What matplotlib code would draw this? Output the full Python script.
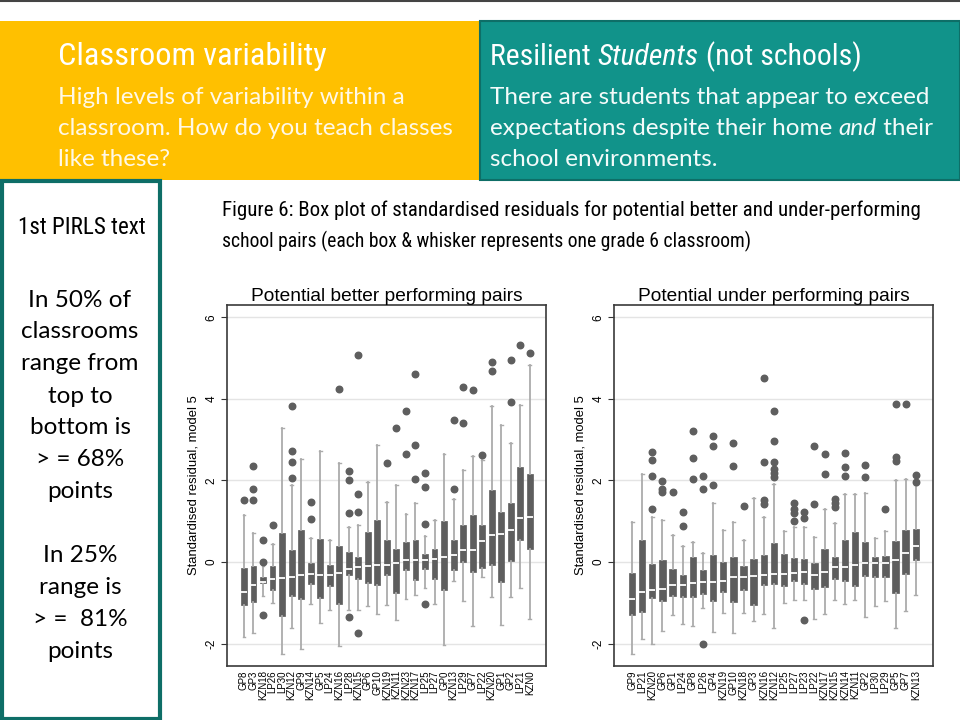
import matplotlib
matplotlib.use("Agg")
import matplotlib.pyplot as plt
from matplotlib import font_manager as fm
from matplotlib.patches import Rectangle

# ---- data --------------------------------------------------------------
better_labels = ["GP8", "GP3", "KZN18", "LP26", "LP30", "KZN12", "GP9", "KZN14",
                 "GP5", "LP24", "KZN16", "LP28", "KZN15", "GP6", "GP10", "KZN19",
                 "KZN11", "KZN23", "KZN17", "LP25", "LP27", "GP0", "KZN13", "LP29",
                 "GP7", "LP22", "KZN20", "GP1", "GP2", "LP21", "KZN0"]
better_q1 = [-1.05, -0.97, -0.52, -0.69, -1.32, -0.83, -0.90, -0.55, -0.88, -0.59,
             -1.04, -0.33, -0.41, -0.52, -0.57, -0.32, -0.75, -0.20, -0.44, -0.18,
             -0.42, -0.69, -0.20, 0.00, -0.25, -0.14, -0.07, -0.48, 0.02, 0.53, 0.33]
better_med = [-0.73, -0.56, -0.48, -0.42, -0.39, -0.38, -0.33, -0.30, -0.31, -0.31,
              -0.28, -0.16, -0.13, -0.11, -0.08, -0.08, -0.03, 0.04, 0.05, 0.05,
              0.08, 0.11, 0.16, 0.29, 0.30, 0.52, 0.65, 0.68, 0.78, 1.07, 1.10]
better_q3 = [-0.14, -0.11, -0.38, -0.11, 0.70, 0.29, 0.78, -0.02, 0.56, -0.08,
             0.39, 0.24, 0.11, 0.73, 1.04, 0.53, 0.33, 0.49, 0.53, 0.20,
             0.33, 1.00, 0.55, 0.90, 1.16, 0.91, 1.76, 1.22, 1.44, 2.33, 2.15]
better_lo = [-1.85, -1.75, -0.83, -1.01, -2.25, -1.63, -2.14, -1.04, -1.50, -1.18,
             -2.06, -1.18, -1.18, -1.09, -1.28, -1.05, -1.42, -0.90, -0.80, -0.64,
             -1.04, -2.03, -0.46, -0.96, -1.58, -0.38, -0.87, -1.55, -0.86, -0.65, -1.40]
better_hi = [1.15, 0.71, -0.11, 0.44, 3.28, 1.89, 2.52, 0.60, 2.71, 0.55,
             2.42, 0.86, 0.91, 1.96, 2.86, 1.48, 1.89, 1.18, 1.45, 0.64,
             1.04, 2.64, 1.55, 2.25, 2.60, 2.50, 3.82, 3.36, 2.91, 3.85, 4.83]
better_out = [[1.52], [1.53, 1.80, 2.35], [0.53, 0.0, -1.29], [0.91], [],
              [2.07, 2.44, 2.71, 3.83], [], [1.06, 1.47], [], [],
              [4.24], [1.21, 2.01, 2.24, -1.36], [1.23, 1.66, -1.73, 5.08], [], [],
              [2.42], [3.28], [2.64, 3.69], [2.04, 2.87, 4.60], [0.94, 1.83, 2.19, -1.04],
              [], [], [1.78, 3.48], [3.41, 4.30], [4.22],
              [2.62], [4.69, 4.91], [], [3.93, 4.96], [5.31], [5.13]]

under_labels = ["GP9", "LP21", "KZN20", "GP6", "GP1", "LP24", "GP8", "LP26", "GP4",
                "KZN19", "GP10", "KZN18", "GP3", "KZN16", "KZN12", "LP25", "LP27",
                "LP23", "LP22", "KZN17", "KZN15", "KZN14", "KZN11", "GP2", "LP30",
                "LP29", "GP5", "GP7", "KZN13"]
under_q1 = [-1.31, -1.22, -0.88, -0.96, -0.83, -0.85, -0.86, -0.78, -0.96, -0.73,
            -0.98, -0.69, -1.06, -0.56, -0.53, -0.59, -0.46, -0.53, -0.66, -0.61,
            -0.41, -0.46, -0.60, -0.34, -0.37, -0.36, -0.75, -0.29, 0.06]
under_med = [-0.90, -0.73, -0.69, -0.66, -0.57, -0.56, -0.52, -0.49, -0.48, -0.46,
             -0.38, -0.36, -0.34, -0.31, -0.30, -0.29, -0.26, -0.25, -0.33, -0.24,
             -0.13, -0.12, -0.07, -0.02, -0.02, -0.02, 0.04, 0.21, 0.38]
under_q3 = [-0.26, 0.54, -0.04, 0.06, -0.16, -0.32, 0.11, -0.19, 0.16, 0.00,
            0.13, -0.11, 0.08, 0.18, 0.47, 0.19, 0.09, 0.07, -0.03, 0.33,
            0.13, 0.54, 0.73, 0.50, 0.13, 0.15, 0.52, 0.78, 0.80]
under_lo = [-2.25, -1.90, -2.02, -1.68, -1.29, -1.51, -1.57, -1.12, -1.71, -1.25,
            -1.74, -1.25, -1.44, -1.27, -1.63, -1.00, -0.94, -0.92, -1.39, -1.27,
            -0.94, -1.04, -0.93, -1.36, -1.07, -0.96, -1.63, -1.21, -0.82]
under_hi = [0.97, 2.15, 1.10, 1.03, 0.66, 0.39, 0.48, 0.23, 1.45, 0.78,
            0.99, 0.55, 1.57, 1.10, 1.92, 0.75, 0.86, 0.85, 0.61, 1.31,
            0.96, 1.67, 1.67, 1.70, 0.60, 0.75, 2.02, 2.03, 1.88]
under_out = [[], [], [1.31, 2.10, 2.51, 2.69], [1.71, 1.80, 1.98], [1.72],
             [0.88, 1.23], [2.04, 2.54, 3.21], [1.80, 2.12, -2.02], [1.89, 2.84, 3.08], [],
             [2.36, 2.91], [1.37], [], [1.41, 1.53, 2.45, 4.50],
             [2.09, 2.17, 2.29, 2.46, 2.96, 3.69],
             [], [1.00, 1.21, 1.29, 1.44], [1.09, 1.22, -1.43], [1.43, 2.84], [2.16, 2.65],
             [1.36, 1.44, 1.55], [2.10, 2.34, 2.67], [], [2.08, 2.38], [],
             [1.30], [2.47, 2.57, 3.88], [3.88], [1.96, 2.13]]

# ---- slide text ----------------------------------------------------------
left_head = "Classroom variability"
left_body = ["High levels of variability within a",
             "classroom. How do you teach classes",
             "like these?"]
side_lines_1 = ["In 50% of", "classrooms", "range from", "top to",
                "bottom is", "> = 68%", "points"]
side_lines_2 = ["In 25%", "range is", "> =  81%", "points"]
caption = ["Figure 6: Box plot of standardised residuals for potential better and under-performing",
           "school pairs (each box & whisker represents one grade 6 classroom)"]

ORANGE = "#FFC000"
TEAL = "#11938A"
TEAL_DARK = "#0E6E67"
BOX = "#5E5E5E"
LIGHT = ["Lato", "DejaVu Sans"]
ARIAL = ["Liberation Sans", "DejaVu Sans"]

# pick a narrow face if one is installed, else squeeze DejaVu by size
names = {f.name for f in fm.fontManager.ttflist}
cond = dict(family=["DejaVu Sans"])
for nm in ["Noto Sans Condensed", "DejaVu Sans Condensed", "Liberation Sans Narrow",
           "Roboto Condensed", "Open Sans Condensed"]:
    if nm in names:
        cond = dict(family=[nm, "DejaVu Sans"])
        break
else:
    if any(f.name == "DejaVu Sans" and f.stretch == "condensed" for f in fm.fontManager.ttflist):
        cond = dict(family=["DejaVu Sans"], stretch="condensed")

W, H = 960, 720
fig = plt.figure(figsize=(9.6, 7.2), dpi=100)
r = fig.canvas.get_renderer()


def fx(px):
    return px / W


def fy(py):
    return 1 - py / H


def rect(x0, y0, x1, y1, **kw):
    fig.add_artist(Rectangle((fx(x0), fy(y1)), fx(x1 - x0), (y1 - y0) / H,
                             transform=fig.transFigure, **kw))


def runs(x, y, parts, width=None, **kw):
    # place text pieces one after another (for the italic words);
    # if width is given, scale the font so the whole line spans it
    if width is not None:
        tot = 0
        for s, style in parts:
            t = fig.text(0, 0, s, style=style, **kw)
            tot += t.get_window_extent(r).width
            t.remove()
        kw["size"] = kw["size"] * width / tot
    for s, style in parts:
        t = fig.text(fx(x), fy(y), s, style=style, va="baseline", **kw)
        x += t.get_window_extent(r).width


# header blocks
fig.add_artist(plt.Line2D([0, 1], [fy(0.5), fy(0.5)], color="#444444", lw=1.5,
                          transform=fig.transFigure))
rect(0, 21, 480, 180, facecolor=ORANGE, edgecolor="none")
rect(480, 21, 960, 180, facecolor=TEAL, edgecolor=TEAL_DARK, lw=1.5)
rect(1.5, 181, 160, 719, facecolor="white", edgecolor=TEAL_DARK, lw=3)

runs(58, 65, [(left_head, "normal")], width=268, size=24, color="white", **cond)
for i, s in enumerate(left_body):
    fig.text(fx(58), fy(104 + 31 * i), s, family=LIGHT, size=17.5,
             color="#FFF8E6", va="baseline")

runs(490, 65, [("Resilient ", "normal"), ("Students", "italic"), (" (not schools)", "normal")],
     width=372, size=24, color="white", **cond)
runs(490, 104, [("There are students that appear to exceed", "normal")],
     family=LIGHT, size=17.5, color="#F4FBFA")
runs(490, 135, [("expectations despite their home ", "normal"), ("and", "italic"),
                (" their", "normal")],
     family=LIGHT, size=17.5, color="#F4FBFA")
runs(490, 166, [("school environments.", "normal")],
     family=LIGHT, size=17.5, color="#F4FBFA")

# left side panel
runs(18, 234, [("1st PIRLS text", "normal")], width=127, size=17, color="black", **cond)
for i, s in enumerate(side_lines_1):
    fig.text(fx(80), fy(300 + 32 * i), s, family=LIGHT, size=17.5, ha="center", va="center")
for i, s in enumerate(side_lines_2):
    fig.text(fx(80), fy(556 + 32 * i), s, family=LIGHT, size=17.5, ha="center", va="center")

runs(222, 216, [(caption[0], "normal")], width=703, size=14, color="black", **cond)
runs(222, 247, [(caption[1], "normal")], width=532, size=14, color="black", **cond)


# ---- the two box plots --------------------------------------------------
def make_stats(labels, q1, med, q3, lo, hi, out):
    st = []
    for i in range(len(labels)):
        st.append(dict(label=labels[i], q1=q1[i], med=med[i], q3=q3[i],
                       whislo=lo[i], whishi=hi[i], fliers=out[i]))
    return st


panels = [
    ("Potential better performing pairs", 227,
     make_stats(better_labels, better_q1, better_med, better_q3, better_lo, better_hi, better_out)),
    ("Potential under performing pairs", 614,
     make_stats(under_labels, under_q1, under_med, under_q3, under_lo, under_hi, under_out)),
]

for title, left, stats in panels:
    ax = fig.add_axes([fx(left), fy(666), fx(319), 361 / H])
    n = len(stats)
    pos = list(range(1, n + 1))
    ax.bxp(stats, positions=pos, widths=0.62, patch_artist=True, capwidths=0.3,
           boxprops=dict(facecolor=BOX, edgecolor=BOX, lw=0.5),
           medianprops=dict(color="white", lw=1.3),
           whiskerprops=dict(color="#ABABAB", lw=1.3),
           capprops=dict(color="#ABABAB", lw=1),
           flierprops=dict(marker="o", markerfacecolor=BOX, markeredgecolor=BOX, markersize=4.7))
    ax.set_xlim(1 - 1.78, n + 1.7)
    ax.set_ylim(-2.55, 6.3)
    ax.set_yticks([-2, 0, 2, 4, 6])
    ax.set_yticklabels(["-2", "0", "2", "4", "6"], rotation=90, va="center", family=ARIAL)
    ax.set_xticklabels([s["label"] for s in stats], family=ARIAL)
    ax.grid(axis="y", color="#E4E4E4", lw=1)
    ax.set_axisbelow(True)
    ax.tick_params(axis="y", length=4, labelsize=8.5, color="#333333", pad=3)
    ax.tick_params(axis="x", length=0, labelsize=7, rotation=90, pad=3)
    ax.set_ylabel("Standardised residual, model 5", size=9.4, labelpad=4, family=ARIAL)
    ax.set_title(title, size=13.8, pad=3, family=ARIAL)
    for sp in ax.spines.values():
        sp.set_color("#3A3A3A")
        sp.set_linewidth(1.2)

fig.savefig("out.png", dpi=100)
